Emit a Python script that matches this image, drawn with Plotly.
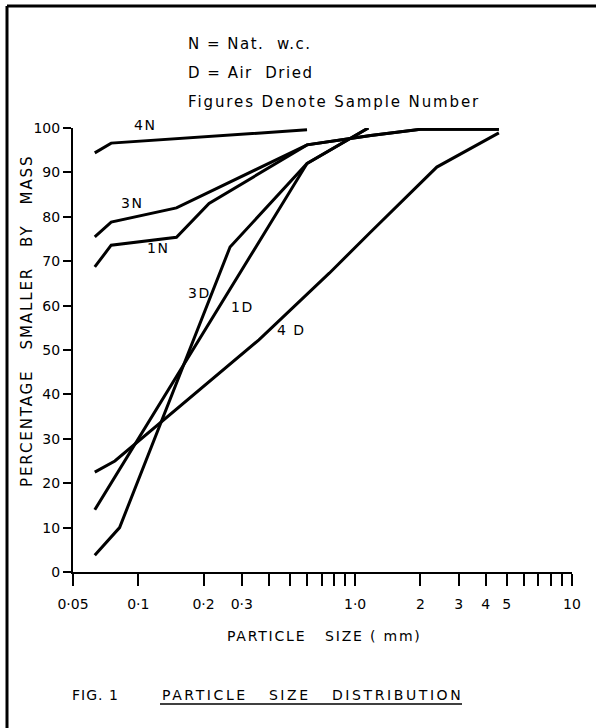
import plotly.graph_objects as go
import math

# ---- data ----
n4_x = [0.063, 0.075, 0.6]
n4_y = [94.4, 96.6, 99.6]
n3_x = [0.063, 0.075, 0.15, 0.6, 1.18, 2.0, 4.6]
n3_y = [75.5, 78.8, 82.0, 96.2, 98.3, 99.7, 99.7]
n1_x = [0.063, 0.075, 0.15, 0.212, 0.6, 1.18, 2.0, 4.6]
n1_y = [68.7, 73.6, 75.4, 83.0, 96.2, 98.3, 99.7, 99.7]
d3_x = [0.063, 0.082, 0.265, 0.6, 1.15]
d3_y = [3.8, 10.0, 73.2, 92.0, 100.0]
d1_x = [0.063, 0.6, 1.15]
d1_y = [14.0, 92.0, 100.0]
d4_x = [0.063, 0.078, 0.36, 0.76, 1.17, 2.38, 4.6]
d4_y = [22.5, 25.0, 52.3, 67.3, 76.4, 91.2, 98.9]

curve_labels = ["4N", "3N", "1N", "3D", "1D", "4 D"]
label_x = [0.107, 0.094, 0.123, 0.192, 0.303, 0.51]
label_y = [100.7, 83.1, 73.0, 62.8, 59.7, 54.5]

y_ticks = [0, 10, 20, 30, 40, 50, 60, 70, 80, 90, 100]
x_tickvals = [0.05, 0.1, 0.2, 0.3, 0.4, 0.5, 0.6, 0.7, 0.8, 0.9, 1.0,
              2, 3, 4, 5, 6, 7, 8, 9, 10]
x_ticktext = ["0·05", "0·1", "0·2", "0·3", "", "", "", "", "", "", "1·0",
              "2", "3", "4", "5", "", "", "", "", "10"]

FONT = "DejaVu Sans"
W, H = 596, 728
L, R, T, B = 73, 572, 128, 572
NB = "\u00a0"


def px(xp, yp):
    return (xp - L) / (R - L), (B - yp) / (B - T)


def spaced(txt, ls):
    return '<span style="letter-spacing:%spx">%s</span>' % (ls, txt)


fig = go.Figure()
for xs, ys in [(n4_x, n4_y), (n3_x, n3_y), (n1_x, n1_y),
               (d3_x, d3_y), (d1_x, d1_y), (d4_x, d4_y)]:
    fig.add_trace(go.Scatter(x=xs, y=ys, mode="lines",
                             line=dict(color="black", width=3),
                             cliponaxis=False, showlegend=False,
                             hoverinfo="skip"))

annotations = []


def add_text(txt, xp, yp, size=14, xanchor="center", angle=0, ls=0):
    xx, yy = px(xp, yp)
    annotations.append(dict(x=xx, y=yy, xref="paper", yref="paper",
                            text=spaced(txt, ls) if ls else txt,
                            showarrow=False, xanchor=xanchor, yanchor="middle",
                            textangle=angle,
                            font=dict(family=FONT, size=size, color="black")))


# curve labels: positions converted from data coordinates
for t, lx, ly in zip(curve_labels, label_x, label_y):
    xp = L + (math.log10(lx) - math.log10(0.05)) / (1 - math.log10(0.05)) * (R - L)
    yp = B - ly / 100 * (B - T)
    add_text(t.replace(" ", NB), xp, yp, size=14, ls=1.5)

# header notes
add_text("N" + NB + "=" + NB + "Nat." + NB * 2 + "w.c.", 186, 44, size=15, xanchor="left", ls=1.5)
add_text("D" + NB + "=" + NB + "Air" + NB * 2 + "Dried", 186, 73, size=15, xanchor="left", ls=1.5)
add_text("Figures" + NB + "Denote" + NB + "Sample" + NB + "Number", 186, 102, size=15,
         xanchor="left", ls=1.9)

# axis titles
add_text("PERCENTAGE" + NB * 3 + "SMALLER" + NB * 3 + "BY" + NB * 3 + "MASS", 27, 321,
         size=15, angle=-90, ls=1.9)
add_text("PARTICLE" + NB * 3 + "SIZE" + NB + "(" + NB + "mm)", 324, 636, size=14, ls=1.8)

# caption
add_text("FIG." + NB + "1", 70, 695, size=14, xanchor="left", ls=1)
add_text("PARTICLE" + NB * 3 + "SIZE" + NB * 3 + "DISTRIBUTION", 160, 695, size=14,
         xanchor="left", ls=2.6)

shapes = []
x0, y0 = px(160, 704)
x1, _ = px(462, 704)
shapes.append(dict(type="line", xref="paper", yref="paper", x0=x0, x1=x1,
                   y0=y0, y1=y0, line=dict(color="black", width=1.5)))
# frame
fx0, fy0 = px(7, 6)
fx1, fy1 = px(7, 728)
shapes.append(dict(type="line", xref="paper", yref="paper", x0=fx0, x1=fx0,
                   y0=fy0, y1=fy1, line=dict(color="black", width=3)))
gx1, _ = px(596, 6)
shapes.append(dict(type="line", xref="paper", yref="paper", x0=fx0, x1=gx1,
                   y0=fy0, y1=fy0, line=dict(color="black", width=3)))

fig.update_layout(
    width=W, height=H,
    margin=dict(l=L, r=W - R, t=T, b=H - B, autoexpand=False),
    paper_bgcolor="white", plot_bgcolor="white",
    font=dict(family=FONT, size=14, color="black"),
    annotations=annotations, shapes=shapes,
    xaxis=dict(type="log", range=[math.log10(0.05), 1.0],
               tickvals=x_tickvals, ticktext=x_ticktext,
               ticks="outside", ticklen=12, tickwidth=2, tickcolor="black",
               showline=True, linecolor="black", linewidth=2,
               showgrid=False, zeroline=False, ticklabelstandoff=6,
               tickfont=dict(family=FONT, size=14)),
    yaxis=dict(range=[0, 100], tickvals=y_ticks,
               ticks="outside", ticklen=8, tickwidth=2, tickcolor="black",
               showline=True, linecolor="black", linewidth=2,
               showgrid=False, zeroline=False,
               tickfont=dict(family=FONT, size=14)),
)

fig.write_html("out.html")
